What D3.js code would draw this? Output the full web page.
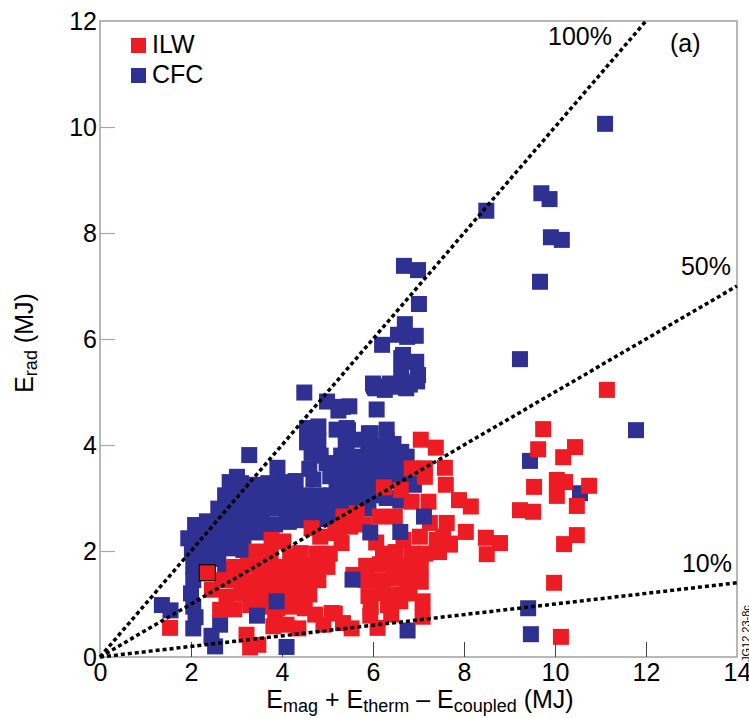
<!DOCTYPE html>
<html>
<head>
<meta charset="utf-8">
<script src="https://cdn.jsdelivr.net/npm/d3@7"></script>
<style>
html,body{margin:0;padding:0;background:#fff;}
svg{display:block;}
text{font-family:"Liberation Sans",Arial,Helvetica,sans-serif;fill:#000;}
</style>
</head>
<body>
<svg id="chart" width="749" height="718"></svg>
<script>
// ---------- data ----------
const xTicks = [0, 2, 4, 6, 8, 10, 12, 14];
const yTicks = [0, 2, 4, 6, 8, 10, 12];
const seriesNames = ["ILW", "CFC"];
const seriesColors = ["#ED1C24", "#2E3192"];
const ratioLines = [1.0, 0.5, 0.1];
const ratioLabels = ["100%", "50%", "10%"];

// CFC (blue) points [x, y] in MJ
const cfc = [
 [11.10,10.06],[9.70,8.75],[9.88,8.64],[8.49,8.42],[9.91,7.92],[10.15,7.87],[9.67,7.08],[9.23,5.62],
 [11.78,4.28],[9.45,3.70],[10.55,3.09],[9.41,0.92],[9.47,0.43],
 [6.68,7.38],[6.99,7.30],[7.01,6.66],[6.70,6.28],[6.55,6.08],[6.75,6.04],[6.94,6.06],[6.20,5.89],
 [6.62,5.64],[6.95,5.57],[6.66,5.70],[6.62,5.35],[6.99,5.32],[6.00,5.16],[6.37,5.16],[6.73,5.07],
 [6.48,5.11],[6.02,5.11],[6.26,5.04],[6.05,5.07],[6.41,5.10],[6.81,5.14],[6.97,5.20],
 [6.08,4.67],[5.34,4.72],[5.48,4.73],[5.24,4.65],[4.99,4.82],[4.49,4.99],[5.45,4.28],[5.91,4.22],
 [6.30,4.10],[6.62,3.87],
 [4.55,4.32],[4.80,4.35],[5.20,4.29],[5.42,4.32],[5.95,4.22],[6.30,4.29],
 [4.55,4.05],[4.80,4.08],[5.40,4.05],[5.65,4.10],[5.90,4.00],[6.15,3.97],[6.45,4.02],
 [4.65,3.85],[4.85,3.80],[5.30,3.80],[5.42,3.91],[5.60,3.78],[5.90,3.80],[6.20,3.78],[6.50,3.82],[6.74,3.78],
 [3.28,3.81],[3.90,3.57],
 [4.60,3.55],[4.98,3.66],[5.20,3.52],[5.50,3.55],[5.80,3.55],[6.10,3.55],[6.40,3.55],[6.70,3.52],[6.90,3.50],
 [3.01,3.40],[2.85,3.30],
 [3.10,3.28],[3.40,3.25],[3.70,3.28],[4.00,3.30],[4.30,3.32],[4.69,3.35],[5.06,3.41],[5.20,3.28],
 [5.50,3.30],[5.80,3.30],[6.10,3.30],[6.40,3.35],[6.70,3.30],[6.90,3.25],
 [2.75,3.05],[3.00,3.05],[3.30,3.02],[3.60,3.05],[3.90,3.05],[4.20,3.05],[4.50,3.05],[4.80,3.05],
 [5.10,3.05],[5.40,3.02],[5.70,3.05],[6.00,3.05],[6.30,3.00],[6.60,2.95],
 [2.60,2.80],[2.90,2.80],[3.20,2.80],[3.50,2.80],[3.80,2.80],[4.10,2.78],[4.40,2.80],[4.70,2.80],
 [5.00,2.78],[5.30,2.85],[5.60,2.85],[5.90,2.80],
 [2.09,2.49],[2.35,2.56],[2.65,2.55],[2.95,2.55],[3.25,2.52],[3.55,2.55],[3.85,2.50],[4.15,2.55],
 [4.45,2.58],[4.75,2.60],[5.05,2.62],
 [1.94,2.24],[2.25,2.30],[2.55,2.30],[2.85,2.30],[3.15,2.30],[3.45,2.35],[3.75,2.38],
 [2.02,1.99],[2.25,2.05],[2.55,2.05],[2.85,2.05],[3.15,2.02],
 [2.05,1.71],[2.30,1.80],[2.60,1.85],[2.75,1.65],
 [2.05,1.45],[2.00,1.20],[2.05,0.95],[2.05,0.54],[2.10,0.75],[1.36,0.98],[1.55,0.88],
 [2.64,0.61],[2.53,0.20],[2.45,0.40],[4.10,0.19],[6.76,0.50]
];
// CFC points that sit on top of ILW points
const cfcOnTop = [
 [5.94,2.35],[7.12,2.65],[6.60,2.36],[5.55,1.46],[3.45,0.78],[3.88,1.05]
];

// ILW (red) points [x, y] in MJ
const ilw = [
 [11.14,5.04],[9.74,4.30],[9.63,3.92],[10.44,3.96],[10.18,3.77],[9.54,3.21],[10.04,3.34],[10.22,3.30],
 [10.04,3.04],[10.75,3.23],[10.48,2.85],[9.23,2.77],[9.52,2.74],[10.48,2.30],[10.20,2.13],[9.98,1.40],[10.13,0.38],
 [7.05,4.10],[7.38,3.95],[7.58,3.57],[7.60,3.25],[7.89,2.96],[8.15,2.84],[8.04,2.36],[8.48,2.25],[8.79,2.15],[8.50,1.94],
 [6.85,3.56],[7.14,3.56],[6.24,3.20],[6.61,3.15],[6.85,2.93],[7.22,2.93],[7.14,3.40],
 [6.15,2.65],[6.48,2.65],[5.35,2.65],[5.64,2.71],[5.50,2.46],[5.80,2.50],[7.25,2.53],[7.62,2.53],[7.54,2.27],[7.69,2.14],
 [4.65,2.43],[4.84,2.27],[5.17,2.34],[5.31,2.15],[5.25,2.40],
 [3.77,2.21],[4.03,2.18],[3.44,1.99],[4.18,1.90],[4.40,1.96],
 [6.07,2.16],[6.67,2.21],[7.03,2.27],[7.40,2.21],[7.69,2.12],
 [3.75,1.95],[4.75,1.95],[5.05,1.95],[6.22,1.95],[6.50,1.98],[6.85,1.95],[7.15,1.95],[7.45,1.98],
 [2.95,1.70],[3.25,1.72],[3.55,1.70],[3.85,1.70],[4.15,1.68],[4.45,1.70],[4.75,1.72],[5.00,1.70],
 [5.57,1.55],[5.85,1.72],[6.15,1.75],[6.45,1.72],[6.75,1.72],[7.05,1.70],
 [2.70,1.45],[3.00,1.45],[3.30,1.42],[3.60,1.45],[3.90,1.45],[4.20,1.45],[4.50,1.42],[4.80,1.45],
 [5.85,1.45],[6.15,1.45],[6.45,1.48],[6.75,1.45],[7.05,1.42],
 [2.46,1.27],[2.78,1.14],[3.10,1.20],[3.40,1.20],[3.70,1.20],[4.00,1.22],[4.30,1.20],[4.60,1.18],
 [5.90,1.15],[6.20,1.20],[6.50,1.18],[6.80,1.20],
 [2.64,0.89],[2.95,0.90],[3.30,0.98],[3.60,0.95],[3.90,0.92],[4.20,0.95],[4.50,0.92],[5.16,0.82],
 [5.95,0.95],[6.33,0.98],[6.60,1.05],[7.09,1.05],
 [3.85,0.72],[4.73,0.80],[5.09,0.83],[5.94,0.78],[7.09,0.76],[6.40,0.80],
 [1.54,0.55],[3.81,0.58],[4.10,0.61],[4.36,0.54],[4.91,0.61],[5.53,0.54],[5.34,0.64],[6.10,0.55],
 [3.22,0.42],[3.48,0.23],[3.30,0.18]
];
// ILW point drawn with a black outline
const ilwOutlined = [[2.36,1.59]];

// ---------- drawing ----------
const svg = d3.select("#chart");
const x = d3.scaleLinear().domain([0, 14]).range([100, 737]);
const y = d3.scaleLinear().domain([0, 12]).range([657, 21]);
const S = 16;

// frame
svg.append("rect").attr("x", x(0)).attr("y", y(12))
  .attr("width", x(14) - x(0)).attr("height", y(0) - y(12))
  .attr("fill", "none").attr("stroke", "#a0a0a0").attr("stroke-width", 1.5);

// axes
const yAxis = d3.axisLeft(y).tickValues(yTicks).tickSizeInner(-15).tickSizeOuter(0).tickPadding(3)
  .tickFormat(d3.format("d"));
const gy = svg.append("g").attr("transform", `translate(${x(0)},0)`).call(yAxis);
gy.select(".domain").remove();
gy.selectAll(".tick line").attr("stroke", "#a8a8a8").attr("stroke-width", 1.2)
  .filter(d => d === 0 || d === 12).remove();
gy.selectAll(".tick text").attr("font-size", 25).attr("font-family", "Liberation Sans, Arial, sans-serif").attr("fill", "#000");

const xAxis = d3.axisBottom(x).tickValues(xTicks).tickSizeInner(-15).tickSizeOuter(0).tickPadding(6)
  .tickFormat(d3.format("d"));
const gx = svg.append("g").attr("transform", `translate(0,${y(0)})`).call(xAxis);
gx.select(".domain").remove();
gx.selectAll(".tick line").attr("stroke", "#444").attr("stroke-width", 1)
  .filter(d => d === 0 || d === 14).remove();
gx.selectAll(".tick text").attr("font-size", 25).attr("font-family", "Liberation Sans, Arial, sans-serif").attr("fill", "#000");

// markers
function squares(data, color, cls, stroke) {
  svg.append("g").attr("class", cls).selectAll("rect").data(data).join("rect")
    .attr("x", d => x(d[0]) - S / 2).attr("y", d => y(d[1]) - S / 2)
    .attr("width", S).attr("height", S).attr("fill", color)
    .attr("stroke", stroke || "none").attr("stroke-width", stroke ? 1.2 : 0);
}
squares(cfc, seriesColors[1], "cfc");
squares(ilw, seriesColors[0], "ilw");
squares(ilwOutlined, seriesColors[0], "ilw-outlined", "#000");
squares(cfcOnTop, seriesColors[1], "cfc-top");

// ratio lines
const lineGen = d3.line().x(d => x(d[0])).y(d => y(d[1]));
ratioLines.forEach(r => {
  const xe = Math.min(14, 12 / r);
  svg.append("path").attr("d", lineGen([[0, 0], [xe, xe * r]]))
    .attr("fill", "none").attr("stroke", "#000").attr("stroke-width", 3.5)
    .attr("stroke-dasharray", "4,3");
});
const labelPos = [[612, 45], [731, 275], [732, 572]];
ratioLabels.forEach((t, i) => {
  svg.append("text").attr("x", labelPos[i][0]).attr("y", labelPos[i][1])
    .attr("text-anchor", "end").attr("font-size", 25).text(t);
});

// panel label
svg.append("text").attr("x", 670).attr("y", 52).attr("font-size", 25).text("(a)");

// legend
seriesNames.forEach((n, i) => {
  svg.append("rect").attr("x", 131).attr("y", 38 + i * 30).attr("width", 15).attr("height", 15)
    .attr("fill", seriesColors[i]);
  svg.append("text").attr("x", 152).attr("y", 53 + i * 30).attr("font-size", 25).text(n);
});

// axis titles
const xt = svg.append("text").attr("x", 420).attr("y", 708).attr("text-anchor", "middle").attr("font-size", 25);
xt.append("tspan").text("E");
xt.append("tspan").attr("font-size", 18).attr("dy", 4).text("mag");
xt.append("tspan").attr("dy", -4).text(" + E");
xt.append("tspan").attr("font-size", 18).attr("dy", 4).text("therm");
xt.append("tspan").attr("dy", -4).text(" \u2013 E");
xt.append("tspan").attr("font-size", 18).attr("dy", 4).text("coupled");
xt.append("tspan").attr("dy", -4).text(" (MJ)");

const yt = svg.append("text").attr("transform", "translate(33,343) rotate(-90)")
  .attr("text-anchor", "middle").attr("font-size", 25);
yt.append("tspan").text("E");
yt.append("tspan").attr("font-size", 18).attr("dy", 4).text("rad");
yt.append("tspan").attr("dy", -4).text(" (MJ)");

// side code
svg.append("text").attr("transform", "translate(750,662) rotate(-90)")
  .attr("font-size", 11).text("JG12.23-8c");
</script>
</body>
</html>
